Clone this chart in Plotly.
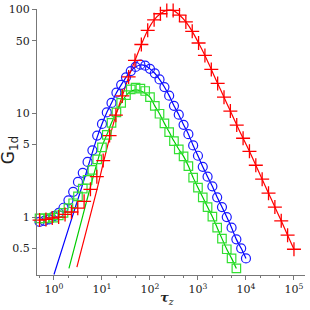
import plotly.graph_objects as go

# ---- data ----
blue_tau = [0.50, 0.63, 0.79, 1.0, 1.26, 1.58, 2.0, 2.51, 3.16, 3.98, 5.01, 6.31, 7.94, 10.0,
            12.6, 15.8, 20.0, 25.1, 31.6, 39.8, 50.1, 63.1, 79.4, 100, 126, 158, 200, 251, 316,
            398, 501, 631, 794, 1000, 1259, 1585, 1995, 2512, 3162, 3981, 5012, 6310, 7943, 10000]
blue_G = [0.90, 0.92, 0.95, 1.02, 1.10, 1.23, 1.45, 1.75, 2.18, 2.67, 3.4, 4.4, 6.1, 7.9,
          10.2, 12.6, 15.8, 18.8, 22.2, 25.5, 28.0, 29.4, 28.8, 26.8, 24.3, 21.2, 17.9, 14.8, 11.8,
          9.7, 7.75, 6.3, 4.9, 3.9, 3.05, 2.45, 1.98, 1.55, 1.25, 1.0, 0.79, 0.61, 0.50, 0.40]

green_tau = [0.50, 0.63, 0.79, 1.0, 1.26, 1.58, 2.0, 2.51, 3.16, 3.98, 5.01, 6.31, 7.94, 10.0,
             12.6, 15.8, 20.0, 25.1, 31.6, 39.8, 50.1, 63.1, 79.4, 100, 126, 158, 200, 251, 316,
             398, 501, 631, 794, 1000, 1259, 1585, 1995, 2512, 3162, 3981, 5012, 6310]
green_G = [0.97, 0.97, 0.98, 0.99, 1.04, 1.10, 1.22, 1.36, 1.58, 1.88, 2.28, 2.85, 3.6, 4.7,
           6.2, 8.1, 10.2, 12.6, 15.0, 17.0, 17.7, 17.3, 16.4, 14.3, 11.8, 9.9, 8.0, 6.6, 5.4,
           4.5, 3.85, 3.1, 2.4, 1.92, 1.55, 1.25, 1.01, 0.79, 0.62, 0.49, 0.40, 0.32]

red_tau = [0.50, 0.68, 0.92, 1.25, 1.70, 2.31, 3.13, 4.24, 5.75, 7.81, 10.6, 14.4, 19.5, 26.5,
           35.9, 48.7, 66.1, 89.7, 122, 165, 224, 304, 412, 559, 759, 1029, 1396, 1895, 2570,
           3487, 4732, 6420, 8710, 11817, 16032, 21750, 29510, 40040, 54330, 73710, 100000]
red_G = [0.935, 0.95, 0.98, 1.0, 1.06, 1.12, 1.22, 1.42, 1.85, 2.45, 3.5, 6.1, 9.6, 14.7,
         22.4, 32.3, 46, 63, 79.5, 91, 98, 98, 88.5, 75.9, 61.6, 47.6, 36.1, 26.5, 19.4,
         14.3, 10.5, 7.7, 5.75, 4.3, 3.16, 2.32, 1.70, 1.25, 0.92, 0.67, 0.49]

# fitted curves
blue_fit_tau = [1.0, 2.0, 4.0, 6.31, 7.94, 10, 12.6, 15.8, 20, 25.1, 31.6, 39.8, 50.1, 63.1, 79.4,
                100, 126, 158, 200, 251, 316, 398, 501, 631, 794, 1000, 1259, 1585, 1995, 2512,
                3162, 3981, 5012, 6310, 7943, 10000]
blue_fit_G = [0.28, 0.77, 2.1, 4.2, 5.9, 7.9, 10.2, 12.6, 15.8, 18.8, 22.2, 25.5, 28.0, 29.2, 28.8,
              26.8, 24.3, 21.2, 17.9, 14.8, 11.8, 9.7, 7.75, 6.3, 4.9, 3.9, 3.05, 2.45, 1.98, 1.55,
              1.25, 1.0, 0.79, 0.61, 0.50, 0.40]

green_fit_tau = [2.05, 4.0, 6.31, 10, 12.6, 15.8, 20, 25.1, 31.6, 39.8, 50.1, 63.1, 79.4, 100, 126,
                 158, 200, 251, 316, 398, 501, 631, 794, 1000, 1259, 1585, 1995, 2512, 3162, 3981,
                 5012, 6310]
green_fit_G = [0.32, 1.04, 2.3, 4.8, 6.2, 8.1, 10.2, 12.6, 14.8, 16.3, 16.8, 16.5, 15.6, 14.3, 11.8,
               9.9, 8.0, 6.6, 5.4, 4.5, 3.85, 3.1, 2.4, 1.92, 1.55, 1.25, 1.01, 0.79, 0.62, 0.49,
               0.40, 0.32]

red_fit_tau = [3.0, 5.0, 8.0, 10.6, 14.4, 19.5, 26.5, 35.9, 48.7, 66.1, 89.7, 122, 165, 224, 304,
               412, 559, 759, 1029, 1396, 1895, 2570, 3487, 4732, 6420, 8710, 11817, 16032, 21750,
               29510, 40040, 54330, 73710, 100000]
red_fit_G = [0.33, 0.82, 1.9, 3.3, 5.8, 9.6, 14.7, 22.4, 32.3, 46, 63, 79.5, 91, 98, 98,
             88.5, 75.9, 61.6, 47.6, 36.1, 26.5, 19.4, 14.3, 10.5, 7.7, 5.75, 4.3, 3.16, 2.32,
             1.70, 1.25, 0.92, 0.67, 0.49]

x_tickvals = [1, 10, 100, 1000, 10000, 100000]
x_ticktext = ["10<sup>0</sup>", "10<sup>1</sup>", "10<sup>2</sup>", "10<sup>3</sup>",
              "10<sup>4</sup>", "10<sup>5</sup>"]
y_tickvals = [0.5, 1, 5, 10, 50, 100]
y_ticktext = ["0.5", "1", "5", "10", "50", "100"]

BLUE, GREEN, RED = "#1a1aff", "#33e033", "#ff0000"

fig = go.Figure()
for tx, gy, col in [(blue_fit_tau, blue_fit_G, "#0000ff"),
                    (green_fit_tau, green_fit_G, "#00cc00"),
                    (red_fit_tau, red_fit_G, RED)]:
    fig.add_trace(go.Scatter(x=tx, y=gy, mode="lines",
                             line=dict(color=col, width=1.2, shape="spline", smoothing=0.6),
                             showlegend=False, hoverinfo="skip"))

fig.add_trace(go.Scatter(x=blue_tau, y=blue_G, mode="markers", showlegend=False,
                         marker=dict(symbol="circle-open", size=9, color=BLUE, line=dict(width=1.2)),
                         cliponaxis=False))
fig.add_trace(go.Scatter(x=green_tau, y=green_G, mode="markers", showlegend=False,
                         marker=dict(symbol="square-open", size=8.5, color=GREEN, line=dict(width=1.2)),
                         cliponaxis=False))
fig.add_trace(go.Scatter(x=red_tau, y=red_G, mode="markers", showlegend=False,
                         marker=dict(symbol="cross-thin-open", size=10, color=RED, line=dict(width=1.3, color=RED)),
                         cliponaxis=False))

tickfont = dict(family="DejaVu Serif", size=11, color="#222")
fig.update_xaxes(type="log", range=[-0.354, 5.23], tickvals=x_tickvals, ticktext=x_ticktext,
                 showgrid=False, zeroline=False, showline=True, linecolor="#777", linewidth=1,
                 ticks="outside", ticklen=4, tickcolor="#777", tickfont=tickfont, automargin=False,
                 minor=dict(ticks="outside", ticklen=2, tickcolor="#777", showgrid=False))
fig.update_yaxes(type="log", range=[-0.558, 2.005], tickvals=y_tickvals, ticktext=y_ticktext,
                 showgrid=False, zeroline=False, showline=True, linecolor="#777", linewidth=1,
                 ticks="outside", ticklen=4, tickcolor="#777", tickfont=tickfont, automargin=False)

fig.add_annotation(text="<b><i>τ</i></b><sub><i>z</i></sub>", xref="paper", yref="paper",
                   x=0.485, y=-0.09, showarrow=False, xanchor="center", yanchor="middle",
                   font=dict(family="DejaVu Serif", size=13, color="#222"))
fig.add_annotation(text="G<sub>1d</sub>", xref="paper", yref="paper", textangle=-90,
                   x=-0.1, y=0.47, showarrow=False, xanchor="center", yanchor="middle",
                   font=dict(family="DejaVu Sans", size=17, color="#222"))

fig.update_layout(width=310, height=310, margin=dict(l=37, r=5, t=9, b=35),
                  paper_bgcolor="white", plot_bgcolor="white")
fig.write_html("out.html", config={"displayModeBar": False},
               post_script="document.body.style.margin='0';document.body.style.overflow='hidden';")
